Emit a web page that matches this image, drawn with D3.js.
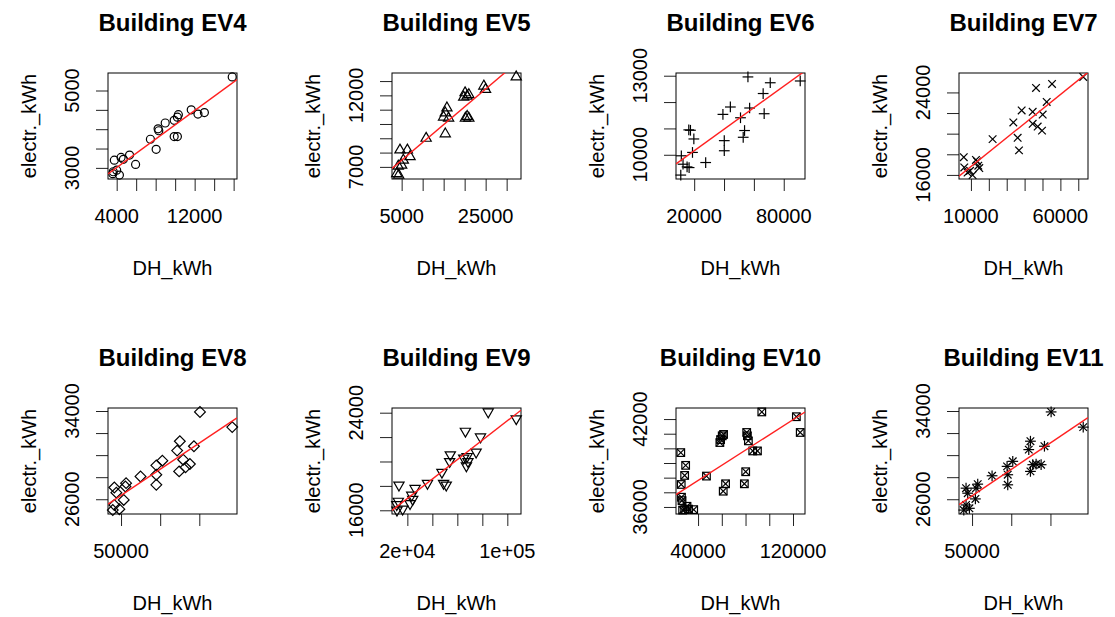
<!DOCTYPE html>
<html><head><meta charset="utf-8">
<script src="https://cdn.jsdelivr.net/npm/d3@7"></script>
<style>body{margin:0;background:#fff}</style>
</head><body>
<svg id="c" width="1115" height="617"></svg>
<script>
// ---- data ----
const buildings = ["EV4","EV5","EV6","EV7","EV8","EV9","EV10","EV11"];

const dh4 = [15855,11650,12340,13000,10330,10230,9900,8980,8250,8320,7460,8050,9900,10230,5940,5320,4690,3760,4000,3600,4280,3650,4450];
const el4 = [5351,4500,4390,4430,4375,4310,4230,4160,4010,3960,3740,3480,3810,3810,3090,3330,3220,3200,2940,2850,2814,2900,3270];

const dh5 = [32278,24570,24970,20100,20580,19780,21000,15780,15390,14980,16180,20180,21000,20600,15390,10830,4600,6360,7000,5400,4200,3840,4300,5000];
const el5 = [13290,12650,12410,12180,11940,11870,12050,11120,10770,10480,10410,10410,10410,10530,9310,9000,8180,8180,7710,7470,7050,6530,6427,7120];

const dh6 = [91039,56014,70960,66206,57145,66885,44236,39253,51030,53749,52843,40158,40158,27700,19773,16375,17500,18867,11394,15243,16600,12530,11021];
const el6 = [12800,12954,12733,12324,11775,11558,11813,11533,11405,10920,10664,10536,10153,9706,10600,10945,10930,10089,9962,9540,9515,9642,9230];

const dh7 = [72769,55336,46380,52350,50112,44515,38358,33694,44515,47313,49739,36119,36866,22127,6000,12799,14104,14664,6270,8134,10933,9500,13500];
const el7 = [25503,24826,24430,23074,21851,22116,22248,21091,20958,20694,20297,19603,18380,19471,17719,17455,16893,16661,16727,16231,15984,16400,17300];

const dh8 = [150858,192051,143133,125107,121674,129399,124249,132403,137983,102790,95064,95064,95064,74893,56438,55579,53433,41416,44000,41416,39442,47854];
const el8 = [33917,32540,30806,31262,30410,29589,28525,28890,29194,29498,29072,28221,27308,28068,27460,27156,25939,27065,26600,25483,25018,25100];

const dh9 = [84698,107119,78523,66443,75034,67785,65101,68500,67248,54362,53826,47651,48993,51141,36107,26174,23490,24300,22148,13289,12752,11539,11700,16242];
const el9 = [24063,23503,22014,22483,20772,20414,20276,20000,19641,20552,20000,19117,18207,18069,18207,17793,17241,16900,16552,18069,16745,16469,16017,16100];

const dh10 = [93710,122827,126083,80989,81555,82403,86078,90035,60353,58375,61500,59000,80141,79011,63180,61201,47067,25436,29541,28693,25800,26000,26500,30671,36325,28693,27000,32000];
const el10 = [42487,42160,41084,41084,40855,40511,39824,39824,40855,40397,40950,40600,38404,37580,37580,37076,38107,39710,38840,38152,37534,36664,36435,36046,35817,35817,35787,35850];

const dh11 = [150851,191800,142340,124468,122340,127447,124468,131702,138085,101915,94681,95532,95532,75532,57234,55106,54255,42340,44468,42340,39442,46596];
const el11 = [33917,32540,30806,31262,30500,29133,28525,29194,29133,29437,28981,28221,27308,28130,27369,27004,26030,27004,26548,25483,25018,25179];

// axis ticks and the labels R kept
const xTicks = [
  [4000,6000,8000,10000,12000,14000,16000],
  [5000,10000,15000,20000,25000,30000],
  [20000,40000,60000,80000],
  [10000,20000,30000,40000,50000,60000,70000],
  [50000,100000,150000],
  [20000,40000,60000,80000,100000],
  [40000,60000,80000,100000,120000],
  [50000,100000,150000]
];
const xLabels = [
  [[4000,"4000"],[12000,"12000"]],
  [[5000,"5000"],[25000,"25000"]],
  [[20000,"20000"],[80000,"80000"]],
  [[10000,"10000"],[60000,"60000"]],
  [[50000,"50000"]],
  [[20000,"2e+04"],[100000,"1e+05"]],
  [[40000,"40000"],[120000,"120000"]],
  [[50000,"50000"]]
];
const yTicks = [
  [3000,3500,4000,4500,5000],
  [7000,8000,9000,10000,11000,12000,13000],
  [10000,11000,12000,13000],
  [16000,18000,20000,22000,24000],
  [26000,28000,30000,32000,34000],
  [16000,18000,20000,22000,24000],
  [36000,37000,38000,39000,40000,41000,42000],
  [26000,28000,30000,32000,34000]
];
const yLabels = [
  [3000,5000],[7000,12000],[10000,13000],[16000,24000],
  [26000,34000],[16000,24000],[36000,42000],[26000,34000]
];
const pchs = [1,2,3,4,5,6,7,8];
const xs = [dh4,dh5,dh6,dh7,dh8,dh9,dh10,dh11];
const ys = [el4,el5,el6,el7,el8,el9,el10,el11];

// ---- layout ----
const colLeft = [108, 392, 676, 959];
const rowTop = [73, 408];
const W = 129, H = 106;
const FONT = "'Liberation Sans', Arial, Helvetica, sans-serif";
const svg = d3.select("#c");

function rExtent(arr){
  const [a,b] = d3.extent(arr); const r = b - a;
  return [a - 0.04*r, b + 0.04*r];
}

function symbol(g, pch, x, y){
  const s = 3.8;
  const st = {stroke:"#000","stroke-width":1.2,fill:"none"};
  function add(tag, attrs){ const e = g.append(tag); for(const k in st) e.attr(k, st[k]); for(const k in attrs) e.attr(k, attrs[k]); return e; }
  const line=(x1,y1,x2,y2)=>add("line",{x1,y1,x2,y2});
  if(pch===1) add("circle",{cx:x,cy:y,r:s+0.2});
  else if(pch===2||pch===6){
    const r=1.55512*s, yc=0.77756*s, xc=1.34677*s, d = pch===2?1:-1;
    add("polygon",{points:`${x},${y-d*r} ${x+xc},${y+d*yc} ${x-xc},${y+d*yc}`});
  } else if(pch===3){ const a=Math.SQRT2*s; line(x-a,y,x+a,y); line(x,y-a,x,y+a); }
  else if(pch===4){ line(x-s,y-s,x+s,y+s); line(x-s,y+s,x+s,y-s); }
  else if(pch===5){ const a=Math.SQRT2*s; add("polygon",{points:`${x-a},${y} ${x},${y-a} ${x+a},${y} ${x},${y+a}`}); }
  else if(pch===7){ add("rect",{x:x-s,y:y-s,width:2*s,height:2*s}); line(x-s,y-s,x+s,y+s); line(x-s,y+s,x+s,y-s); }
  else if(pch===8){ const a=Math.SQRT2*s; line(x-a,y,x+a,y); line(x,y-a,x,y+a); line(x-s,y-s,x+s,y+s); line(x-s,y+s,x+s,y-s); }
}

buildings.forEach((b, i) => {
  const L = colLeft[i % 4], T = rowTop[Math.floor(i / 4)];
  const xd = xs[i], yd = ys[i];
  const x = d3.scaleLinear().domain(rExtent(xd)).range([L, L + W]);
  const y = d3.scaleLinear().domain(rExtent(yd)).range([T + H, T]);
  const g = svg.append("g");

  const xa = g.append("g").attr("transform", `translate(0,${T + H})`)
    .call(d3.axisBottom(x).tickValues(xTicks[i]).tickSize(12).tickFormat(""));
  xa.select(".domain").remove();
  xa.selectAll("line").attr("stroke", "#222").attr("stroke-width", 1);
  const ya = g.append("g").attr("transform", `translate(${L},0)`)
    .call(d3.axisLeft(y).tickValues(yTicks[i]).tickSize(12).tickFormat(""));
  ya.select(".domain").remove();
  ya.selectAll("line").attr("stroke", "#222").attr("stroke-width", 1);

  xLabels[i].forEach(([v, t]) => {
    g.append("text").attr("x", x(v)).attr("y", T + H + 44)
      .attr("text-anchor", "middle").attr("font-family", FONT).attr("font-size", 20)
      .attr("fill", "#000").text(t);
  });
  yLabels[i].forEach(v => {
    g.append("text").attr("transform", `translate(${L - 29},${y(v)}) rotate(-90)`)
      .attr("text-anchor", "middle").attr("font-family", FONT).attr("font-size", 20)
      .attr("fill", "#000").text(String(v));
  });

  g.append("rect").attr("x", L).attr("y", T).attr("width", W).attr("height", H)
    .attr("fill", "none").attr("stroke", "#000").attr("stroke-width", 1);

  const pg = g.append("g");
  xd.forEach((v, k) => symbol(pg, pchs[i], x(v), y(yd[k])));

  const mx = d3.mean(xd), my = d3.mean(yd);
  let sxy = 0, sxx = 0;
  xd.forEach((v, k) => { sxy += (v - mx) * (yd[k] - my); sxx += (v - mx) * (v - mx); });
  const slope = sxy / sxx, icpt = my - slope * mx;
  const cid = "clip" + i;
  g.append("clipPath").attr("id", cid).append("rect")
    .attr("x", L).attr("y", T).attr("width", W).attr("height", H);
  const [x0, x1] = x.domain();
  g.append("line").attr("clip-path", `url(#${cid})`)
    .attr("x1", x(x0)).attr("y1", y(icpt + slope * x0))
    .attr("x2", x(x1)).attr("y2", y(icpt + slope * x1))
    .attr("stroke", "#ff2020").attr("stroke-width", 1.4);

  g.append("text").attr("x", L + W / 2).attr("y", T - 42).attr("text-anchor", "middle")
    .attr("font-family", FONT).attr("font-size", 24).attr("font-weight", "bold")
    .attr("fill", "#000").text("Building " + b);
  g.append("text").attr("x", L + W / 2).attr("y", T + H + 96).attr("text-anchor", "middle")
    .attr("font-family", FONT).attr("font-size", 20).attr("fill", "#000").text("DH_kWh");
  g.append("text").attr("transform", `translate(${L - 72},${T + H / 2}) rotate(-90)`)
    .attr("text-anchor", "middle").attr("font-family", FONT).attr("font-size", 20)
    .attr("fill", "#000").text("electr._kWh");
});
</script>
</body></html>
